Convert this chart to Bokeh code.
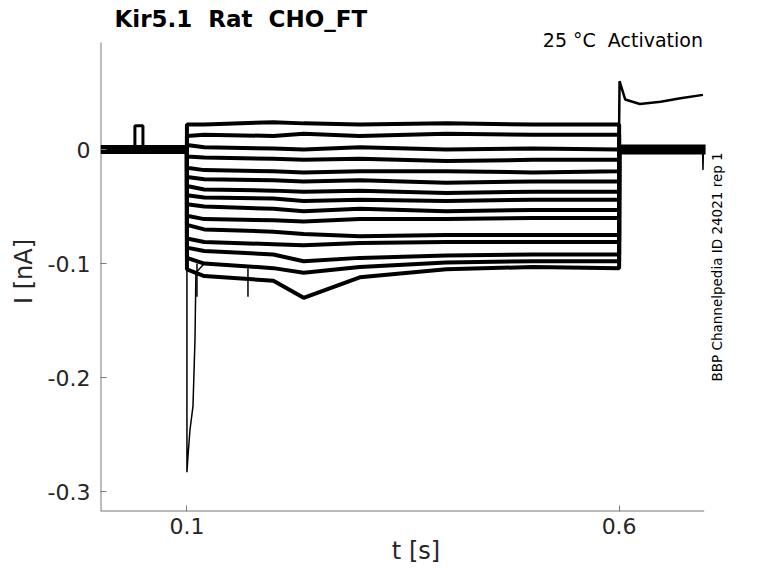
from bokeh.plotting import figure
from bokeh.models import Range1d, FixedTicker, Label
from bokeh.embed import file_html
from bokeh.resources import INLINE
import math

# ---- data (time in s, current in nA) ----
hold_t = [0.0, 0.1]
hold_i = [0.0, 0.0]

bump_t = [0.0398, 0.0398, 0.0491, 0.0491]
bump_i = [0.0, 0.021, 0.021, 0.0]

step_t = [0.1, 0.12, 0.2, 0.235, 0.3, 0.4, 0.5, 0.6]
step_traces = [
    [0.022, 0.022, 0.024, 0.023, 0.022, 0.023, 0.022, 0.022],
    [0.012, 0.013, 0.012, 0.014, 0.012, 0.014, 0.013, 0.013],
    [0.004, 0.002, 0.001, 0.000, 0.002, 0.000, 0.001, 0.000],
    [-0.006, -0.007, -0.008, -0.009, -0.008, -0.010, -0.009, -0.009],
    [-0.016, -0.018, -0.019, -0.020, -0.019, -0.019, -0.020, -0.019],
    [-0.024, -0.026, -0.027, -0.028, -0.027, -0.029, -0.028, -0.028],
    [-0.032, -0.035, -0.036, -0.037, -0.036, -0.038, -0.037, -0.037],
    [-0.040, -0.042, -0.043, -0.045, -0.044, -0.045, -0.044, -0.044],
    [-0.048, -0.050, -0.052, -0.054, -0.052, -0.054, -0.053, -0.053],
    [-0.058, -0.061, -0.062, -0.063, -0.061, -0.061, -0.060, -0.060],
    [-0.066, -0.070, -0.072, -0.074, -0.076, -0.075, -0.075, -0.075],
    [-0.078, -0.081, -0.083, -0.084, -0.082, -0.081, -0.081, -0.081],
    [-0.086, -0.089, -0.092, -0.098, -0.095, -0.093, -0.092, -0.092],
    [-0.095, -0.100, -0.104, -0.108, -0.103, -0.099, -0.098, -0.098],
    [-0.105, -0.111, -0.115, -0.130, -0.112, -0.105, -0.103, -0.104],
]

onset_t = [0.1, 0.1, 0.1012, 0.1035, 0.107, 0.1093, 0.1104, 0.12]
onset_i = [0.0, -0.283, -0.269, -0.246, -0.225, -0.167, -0.108, -0.100]

spike_t = [0.1116, 0.1706]
spike_base = [-0.100, -0.104]
spike_tip = [-0.129, -0.129]

tail_t = [0.6, 0.7]
tail_i = [0.0, 0.0]

off_t = [0.6, 0.6005, 0.607, 0.624, 0.648, 0.671, 0.697]
off_i = [0.022, 0.060, 0.044, 0.040, 0.042, 0.045, 0.048]

end_spike_t = [0.6965, 0.697, 0.6975]
end_spike_i = [0.0, -0.018, 0.0]

# axis extents (the visible axis box of the reference)
t_axis = [0.0, 0.6984]
i_axis = [-0.3175, 0.094]

x_ticks = [0.1, 0.6]
y_ticks = [-0.3, -0.2, -0.1, 0.0]
y_tick_labels = {-0.3: "-0.3", -0.2: "-0.2", -0.1: "-0.1", 0.0: "0"}
x_tick_labels = {0.1: "0.1", 0.6: "0.6"}

title_text = "Kir5.1 \u00a0Rat \u00a0CHO_FT"
cond_text = "25 °C \u00a0Activation"
source_text = "BBP Channelpedia ID 24021 rep 1"

# ---- figure ----
FONT = "DejaVu Sans"
AX = "#7a7a7a"
TXT = "#262626"

p = figure(width=761, height=567, output_backend="svg", toolbar_location=None,
           x_range=Range1d(0.0, 0.73), y_range=Range1d(-0.3175, 0.1036),
           min_border_left=100, min_border_right=30, min_border_top=31,
           min_border_bottom=50)
p.outline_line_color = None
p.xgrid.visible = False
p.ygrid.visible = False
p.background_fill_color = "white"
p.border_fill_color = "white"

p.title.text = title_text
p.title.text_font = FONT
p.title.text_font_size = "23px"
p.title.text_font_style = "bold"
p.title.text_color = "black"
p.title.align = "left"
p.title.offset = 14
p.title.standoff = 0

for ax in (p.xaxis[0], p.yaxis[0]):
    ax.axis_line_color = None
    ax.major_tick_line_color = AX
    ax.major_tick_in = 6
    ax.major_tick_out = 0
    ax.minor_tick_line_color = None
    ax.major_label_text_font = FONT
    ax.major_label_text_color = TXT
    ax.axis_label_text_font = FONT
    ax.axis_label_text_color = TXT
    ax.axis_label_text_font_style = "normal"

p.xaxis.ticker = FixedTicker(ticks=x_ticks)
p.yaxis.ticker = FixedTicker(ticks=y_ticks)
p.xaxis.major_label_overrides = x_tick_labels
p.yaxis.major_label_overrides = y_tick_labels
p.xaxis.major_label_text_font_size = "22px"
p.yaxis.major_label_text_font_size = "22px"
p.xaxis.axis_label = "t [s]"
p.yaxis.axis_label = "I [nA]"
p.xaxis.axis_label_text_font_size = "24px"
p.yaxis.axis_label_text_font_size = "24px"
p.xaxis.major_label_standoff = 6
p.yaxis.major_label_standoff = 10
p.xaxis.axis_label_standoff = 0
p.yaxis.axis_label_standoff = 7

# axis box lines limited to the reference's extents
p.segment(x0=[t_axis[0]], y0=[i_axis[0]], x1=[t_axis[0]], y1=[i_axis[1]],
          line_color=AX, line_width=2)
p.segment(x0=[t_axis[0]], y0=[i_axis[0]], x1=[t_axis[1]], y1=[i_axis[0]],
          line_color=AX, line_width=2)

# ---- traces ----
p.line(hold_t, hold_i, line_color="black", line_width=9)
p.line(bump_t, bump_i, line_color="black", line_width=3)
p.line(tail_t, tail_i, line_color="black", line_width=10)
for vals in step_traces:
    xs = [step_t[0]] + step_t + [step_t[-1]]
    ys = [0.0] + vals + [0.0]
    p.line(xs, ys, line_color="black", line_width=4)
p.line(onset_t, onset_i, line_color="black", line_width=1.5)
p.segment(x0=spike_t, y0=spike_base, x1=spike_t, y1=spike_tip,
          line_color="black", line_width=1.5)
p.line(off_t, off_i, line_color="black", line_width=2.5)
p.line(end_spike_t, end_spike_i, line_color="black", line_width=1.5)

# ---- annotations ----
p.add_layout(Label(x=0.697, y=0.0958, text=cond_text, text_font=FONT,
                   text_font_size="19px", text_align="right",
                   text_baseline="middle", text_color="black"))
p.add_layout(Label(x=0.713, y=-0.1029, text=source_text,
                   text_font=FONT, text_font_size="13.5px", angle=math.pi / 2,
                   text_align="center", text_baseline="middle",
                   text_color="black"))

open("out.html", "w").write(file_html(p, INLINE))
